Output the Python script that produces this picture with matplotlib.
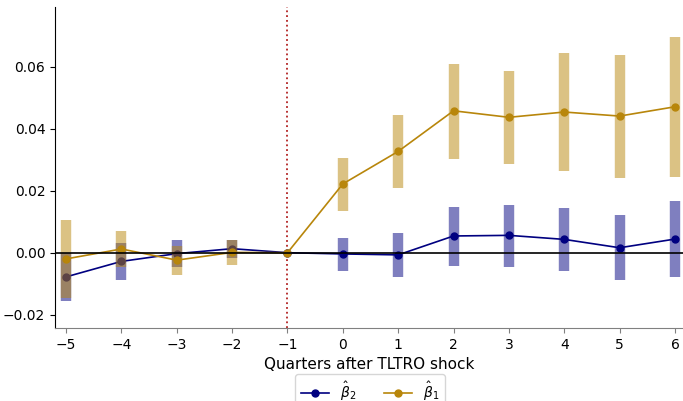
import numpy as np
from matplotlib import pyplot as plt

# Quarters relative to the TLTRO shock
quarters = [-5, -4, -3, -2, -1, 0, 1, 2, 3, 4, 5, 6]

# beta_1 estimates and 95% bands
b1 = [-0.0020, 0.0012, -0.0024, 0.0001, 0.0, 0.0222, 0.0327, 0.0458, 0.0437, 0.0454, 0.0441, 0.0471]
b1_lo = [-0.0146, -0.0047, -0.0071, -0.0040, 0.0, 0.0136, 0.0209, 0.0304, 0.0285, 0.0265, 0.0242, 0.0245]
b1_hi = [0.0106, 0.0071, 0.0023, 0.0042, 0.0, 0.0307, 0.0445, 0.0610, 0.0586, 0.0644, 0.0639, 0.0697]

# beta_2 estimates and 95% bands
b2 = [-0.0078, -0.0028, -0.0003, 0.0013, 0.0, -0.0004, -0.0007, 0.0054, 0.0056, 0.0043, 0.0016, 0.0044]
b2_lo = [-0.0155, -0.0087, -0.0047, -0.0017, 0.0, -0.0058, -0.0077, -0.0043, -0.0046, -0.0058, -0.0088, -0.0080]
b2_hi = [0.0000, 0.0031, 0.0041, 0.0042, 0.0, 0.0049, 0.0063, 0.0149, 0.0155, 0.0144, 0.0123, 0.0168]

fig = plt.figure(figsize=(6.83, 4.01), dpi=100)
ax = fig.add_axes([55/683, 73/401, 628/683, 321/401])

ax.axvline(-1, color='firebrick', ls=':', lw=1.3, zorder=0.5)
ax.vlines(quarters, b2_lo, b2_hi, color='navy', alpha=0.5, lw=7.5, zorder=1)
ax.plot(quarters, b2, color='navy', marker='o', ms=5, lw=1.2, label=r'$\hat{\beta}_2$', zorder=2)
ax.vlines(quarters, b1_lo, b1_hi, color='darkgoldenrod', alpha=0.5, lw=7.5, zorder=3)
ax.plot(quarters, b1, color='darkgoldenrod', marker='o', ms=5, lw=1.2, label=r'$\hat{\beta}_1$', zorder=4)
ax.axhline(0, color='k', lw=1.2, zorder=5)

ax.set_xlim(-5.2, 6.145)
ax.set_ylim(-0.0243, 0.0793)
ax.set_xticks(quarters)
ax.set_yticks([-0.02, 0.0, 0.02, 0.04, 0.06])
ax.tick_params(labelsize=10)
ax.tick_params(axis='x', color='gray')
ax.spines['top'].set_visible(False)
ax.spines['right'].set_visible(False)
ax.spines['bottom'].set_color('gray')
ax.set_xlabel('Quarters after TLTRO shock', fontsize=11)
ax.legend(loc='upper center', bbox_to_anchor=(370/683, 27/401), bbox_transform=fig.transFigure,
          ncol=2, fontsize=10, borderaxespad=0)

fig.savefig('out.png')
